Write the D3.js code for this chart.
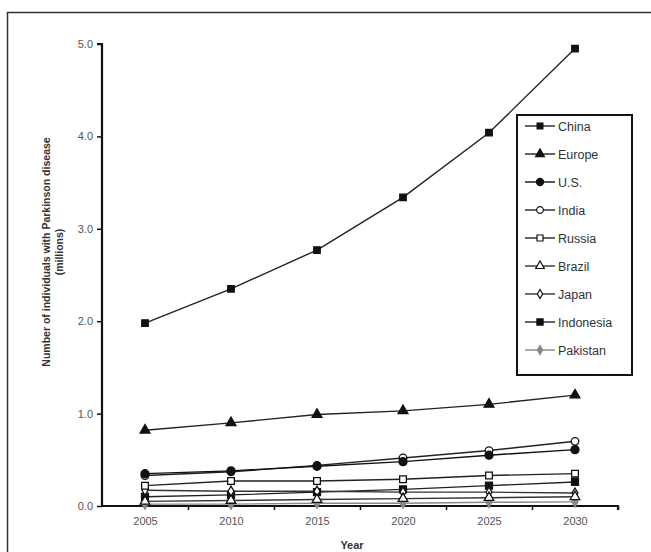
<!DOCTYPE html>
<html><head><meta charset="utf-8">
<script src="https://cdn.jsdelivr.net/npm/d3@7"></script>
<style>body{margin:0;background:#fff}svg{display:block;font-family:Arial,"Liberation Sans",sans-serif}</style>
</head><body><svg id="c" width="651" height="552"></svg>
<script>
const years = [2005, 2010, 2015, 2020, 2025, 2030];
const seriesNames = ["China","Europe","U.S.","India","Russia","Brazil","Japan","Indonesia","Pakistan"];
const china     = [1.98, 2.35, 2.77, 3.34, 4.04, 4.95];
const europe    = [0.82, 0.90, 0.99, 1.03, 1.10, 1.20];
const us        = [0.35, 0.38, 0.43, 0.48, 0.55, 0.61];
const india     = [0.33, 0.37, 0.44, 0.52, 0.60, 0.70];
const russia    = [0.22, 0.27, 0.27, 0.29, 0.33, 0.35];
const brazil    = [0.05, 0.06, 0.07, 0.08, 0.09, 0.10];
const japan     = [0.17, 0.16, 0.16, 0.15, 0.15, 0.14];
const indonesia = [0.10, 0.12, 0.15, 0.18, 0.22, 0.26];
const pakistan  = [0.02, 0.02, 0.03, 0.03, 0.04, 0.045];
const yTicks = [0, 1, 2, 3, 4, 5];
const minorX = [2007.5, 2012.5, 2017.5, 2022.5, 2027.5, 2032.5];

const values = [china, europe, us, india, russia, brazil, japan, indonesia, pakistan];
const markers = [
  {sym:d3.symbolSquare, size:42, fill:"#111", stroke:"#111"},
  {sym:d3.symbolTriangle, size:42, fill:"#111", stroke:"#111"},
  {sym:d3.symbolCircle, size:50, fill:"#111", stroke:"#111"},
  {sym:d3.symbolCircle, size:45, fill:"#fff", stroke:"#111"},
  {sym:d3.symbolSquare, size:45, fill:"#fff", stroke:"#111"},
  {sym:d3.symbolTriangle, size:40, fill:"#fff", stroke:"#111"},
  {sym:d3.symbolDiamond, size:30, fill:"#fff", stroke:"#111"},
  {sym:d3.symbolSquare, size:48, fill:"#111", stroke:"#111"},
  {sym:d3.symbolDiamond, size:30, fill:"#888", stroke:"#888"}
];
const lineColors = ["#222","#222","#111","#222","#222","#333","#333","#222","#888"];

const svg = d3.select("#c");
// outer frame
svg.append("path").attr("d","M7.5,560 V12.5 H660").attr("fill","none").attr("stroke","#333").attr("stroke-width",1.5);

const x = d3.scaleLinear().domain([2002.5, 2032.5]).range([102, 618]);
const y = d3.scaleLinear().domain([0, 5]).range([506, 44]);

// y axis
const ya = svg.append("g").attr("transform","translate(102,0)")
  .call(d3.axisLeft(y).tickValues(yTicks).tickFormat(d3.format(".1f")).tickSize(5).tickPadding(4));
ya.select(".domain").attr("stroke","#111").attr("stroke-width",2.2).attr("d","M-5,44H0V506");
ya.selectAll(".tick line").attr("stroke","#111").attr("stroke-width",1.5);
ya.selectAll("text").attr("font-size",11).attr("fill","#555");

// x axis
const xa = svg.append("g").attr("transform","translate(0,506)")
  .call(d3.axisBottom(x).tickValues(minorX).tickSize(4).tickFormat(""));
xa.select(".domain").attr("stroke","#111").attr("stroke-width",2.2).attr("d","M102,0H618V4");
xa.selectAll(".tick line").attr("stroke","#111").attr("stroke-width",1.5);
const xl = svg.append("g").attr("transform","translate(0,506)")
  .call(d3.axisBottom(x).tickValues(years).tickSize(0).tickPadding(11).tickFormat(d3.format("d")));
xl.select(".domain").remove();
xl.selectAll("text").attr("font-size",11).attr("fill","#555");

// axis titles
svg.append("text").attr("x",352).attr("y",549).attr("text-anchor","middle")
  .attr("font-size",11).attr("font-weight","bold").attr("fill","#333").text("Year");
const yt = svg.append("g").attr("transform","translate(50,252) rotate(-90)");
yt.append("text").attr("x",0).attr("y",0).attr("text-anchor","middle")
  .attr("font-size",10.5).attr("font-weight","bold").attr("fill","#333").text("Number of individuals with Parkinson disease");
yt.append("text").attr("x",0).attr("y",13).attr("text-anchor","middle")
  .attr("font-size",10.5).attr("font-weight","bold").attr("fill","#333").text("(millions)");

// lines
const line = d3.line().x((d,i)=>x(years[i])).y(d=>y(d));
const order = [8,7,6,5,4,3,2,1,0];
order.forEach(k=>{
  svg.append("path").datum(values[k]).attr("d",line).attr("fill","none")
    .attr("stroke",lineColors[k]).attr("stroke-width",1.4);
});
order.forEach(k=>{
  const m = markers[k];
  svg.append("g").selectAll("path").data(values[k]).join("path")
    .attr("transform",(d,i)=>`translate(${x(years[i])},${y(d)})`)
    .attr("d",d3.symbol().type(m.sym).size(m.size))
    .attr("fill",m.fill).attr("stroke",m.stroke).attr("stroke-width",1.3);
});

// legend
const lg = svg.append("g");
lg.append("rect").attr("x",517).attr("y",115).attr("width",115).attr("height",260)
  .attr("fill","#fff").attr("stroke","#111").attr("stroke-width",2);
seriesNames.forEach((n,i)=>{
  const yy = 126 + 28*i;
  const m = markers[i];
  lg.append("line").attr("x1",525).attr("x2",555).attr("y1",yy).attr("y2",yy)
    .attr("stroke",lineColors[i]).attr("stroke-width",1.4);
  lg.append("path").attr("transform",`translate(540,${yy})`)
    .attr("d",d3.symbol().type(m.sym).size(m.size*0.8))
    .attr("fill",m.fill).attr("stroke",m.stroke).attr("stroke-width",1.2);
  lg.append("text").attr("x",558).attr("y",yy+4.5).attr("font-size",12.5).attr("fill","#333").text(n);
});
</script></body></html>
